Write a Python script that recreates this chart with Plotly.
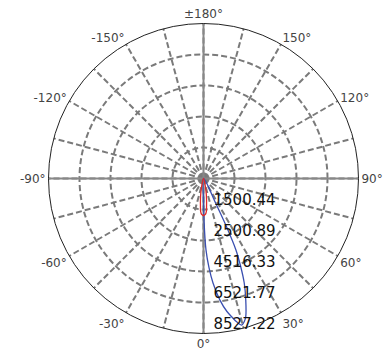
import plotly.graph_objects as go

# Radial ring labels (as printed on the chart)
ring_labels = ["1500.44", "2500.89", "4516.33", "6521.77", "8527.22"]
r_max = 8527.22
ring_values = [r_max * k / 5 for k in range(1, 6)]

# Angular ticks every 15 degrees, labels every 30 degrees
angle_ticks = list(range(0, 360, 15))
label_map = {0: "0°", 30: "30°", 60: "60°", 90: "90°", 120: "120°", 150: "150°",
             180: "±180°", 210: "-150°", 240: "-120°", 270: "-90°", 300: "-60°", 330: "-30°"}
angle_labels = [label_map.get(a, "") for a in angle_ticks]

# Blue curve (intensity vs angle)
blue_theta = [-0.5, 0, 0.7, 2, 3.5, 5.2, 7.7, 10, 11.5, 13, 14.6, 16, 17, 19.2, 21.3, 23,
              24.4, 25.5, 26.2, 27]
blue_r = [0, 1100, 2280, 3930, 4900, 5770, 6750, 7430, 7760, 8090, 8330, 8170, 7950, 7070,
          6170, 5200, 4320, 2900, 1520, 0]

# Red curve
red_theta = [-16, -13, -10, -8, -6, -5, -3, 0, 3, 5, 6, 8, 10, 13, 16]
red_r = [0, 495, 880, 1210, 1600, 1815, 1980, 2035, 1980, 1815, 1600, 1210, 880, 495, 0]

fig = go.Figure()

# solid cross axes (0/180 and 90/-90)
for ang in [0, 90, 180, 270]:
    fig.add_trace(go.Scatterpolar(theta=[ang, ang], r=[0, r_max], mode="lines",
                                  line=dict(color="#888888", width=2),
                                  showlegend=False, hoverinfo="skip"))

fig.add_trace(go.Scatterpolar(theta=blue_theta, r=blue_r, mode="lines",
                              line=dict(color="#3a4fb0", width=1.3, shape="spline"),
                              showlegend=False))
fig.add_trace(go.Scatterpolar(theta=red_theta, r=red_r, mode="lines",
                              line=dict(color="#e02828", width=1.3, shape="spline"),
                              showlegend=False))

W, H = 392, 349
off = 8  # page body margin
cx, cy, R = 203.5 - off, 178.5 - off, 155

fig.update_layout(
    width=W, height=H,
    margin=dict(l=0, r=0, t=0, b=0),
    paper_bgcolor="white",
    showlegend=False,
    polar=dict(
        domain=dict(x=[(cx - R) / W, (cx + R) / W], y=[(H - cy - R) / H, (H - cy + R) / H]),
        bgcolor="white",
        angularaxis=dict(
            rotation=270, direction="counterclockwise",
            tickmode="array", tickvals=angle_ticks, ticktext=angle_labels,
            showgrid=True, gridcolor="#7a7a7a", griddash="6px,3px", gridwidth=2,
            showline=True, linecolor="#222222", linewidth=1,
            ticks="", tickfont=dict(family="DejaVu Sans", size=12, color="#444444"),
        ),
        radialaxis=dict(
            range=[0, r_max], angle=270, tickangle=-90, side="counterclockwise",
            tickmode="array", tickvals=ring_values,
            ticktext=["\u00a0\u00a0" + t + "<br> " for t in ring_labels],
            showgrid=True, gridcolor="#7a7a7a", griddash="6px,3px", gridwidth=2,
            showline=False, ticks="",
            tickfont=dict(family="DejaVu Sans", size=15, color="#111111"),
        ),
    ),
)

fig.write_html("out.html")
